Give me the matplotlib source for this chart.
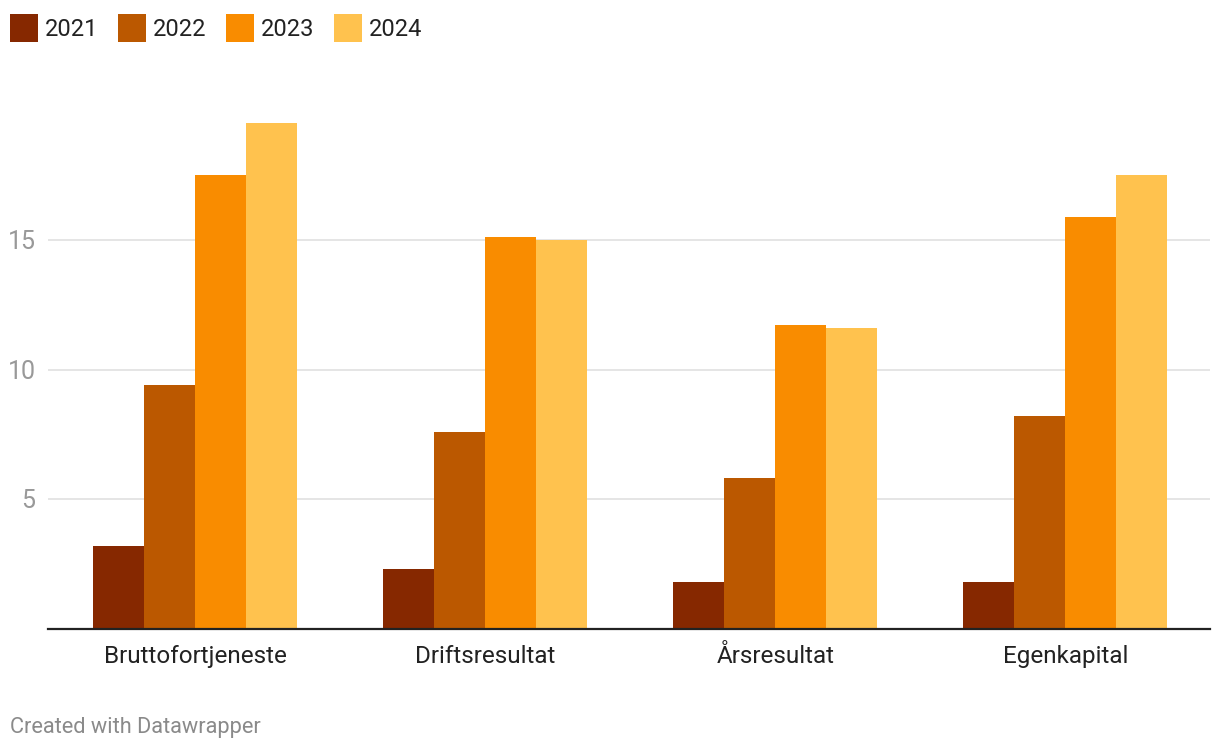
import matplotlib.pyplot as plt
import numpy as np
from matplotlib.patches import Rectangle

plt.rcParams['font.family'] = ['Roboto', 'DejaVu Sans']

# data
categories = ['Bruttofortjeneste', 'Driftsresultat', 'Årsresultat', 'Egenkapital']
years = ['2021', '2022', '2023', '2024']
v2021 = [3.2, 2.3, 1.8, 1.8]
v2022 = [9.4, 7.6, 5.8, 8.2]
v2023 = [17.5, 15.1, 11.7, 15.9]
v2024 = [19.5, 15.0, 11.6, 17.5]
series = [v2021, v2022, v2023, v2024]
colors = ['#862800', '#BB5800', '#F98C00', '#FFC24E']
yticks = [5, 10, 15]

fig = plt.figure(figsize=(12.2, 7.5), dpi=100)
ax = fig.add_axes([48/1220, 1 - 628.5/750, (1210-48)/1220, (628.5-110.5)/750])

x = np.arange(len(categories))
w = 51/290
for i, vals in enumerate(series):
    ax.bar(x + (i - 1.5)*w, vals, width=w, color=colors[i], zorder=3, linewidth=0)

ax.set_xlim(-0.5085, 3.4985)
ax.set_ylim(0, 20)
ax.set_yticks(yticks)
ax.set_yticklabels([str(t) for t in yticks])
ax.set_xticks(x)
ax.set_xticklabels(categories)
ax.tick_params(axis='y', length=0, pad=9, labelsize=18, labelcolor='#999999')
ax.tick_params(axis='x', length=0, pad=12, labelsize=17.5, labelcolor='#222222')
ax.grid(axis='y', color='#e3e3e3', linewidth=1.3, zorder=0)
for s in ['top', 'right', 'left']:
    ax.spines[s].set_visible(False)
ax.spines['bottom'].set_color('#222222')
ax.spines['bottom'].set_linewidth(1.6)
ax.spines['bottom'].set_zorder(4)

# legend
for i, yr in enumerate(years):
    x0 = 10 + i*108
    fig.add_artist(Rectangle((x0/1220, 1 - 42/750), 28/1220, 28/750,
                             transform=fig.transFigure, color=colors[i], linewidth=0))
    fig.text((x0 + 35)/1220, 1 - 30/750, yr, fontsize=17, color='#222222', va='center', ha='left')

fig.text(10/1220, 1 - 727/750, 'Created with Datawrapper', fontsize=15.7, color='#8a8a8a', va='center', ha='left')

fig.savefig('out.png', dpi=100)
